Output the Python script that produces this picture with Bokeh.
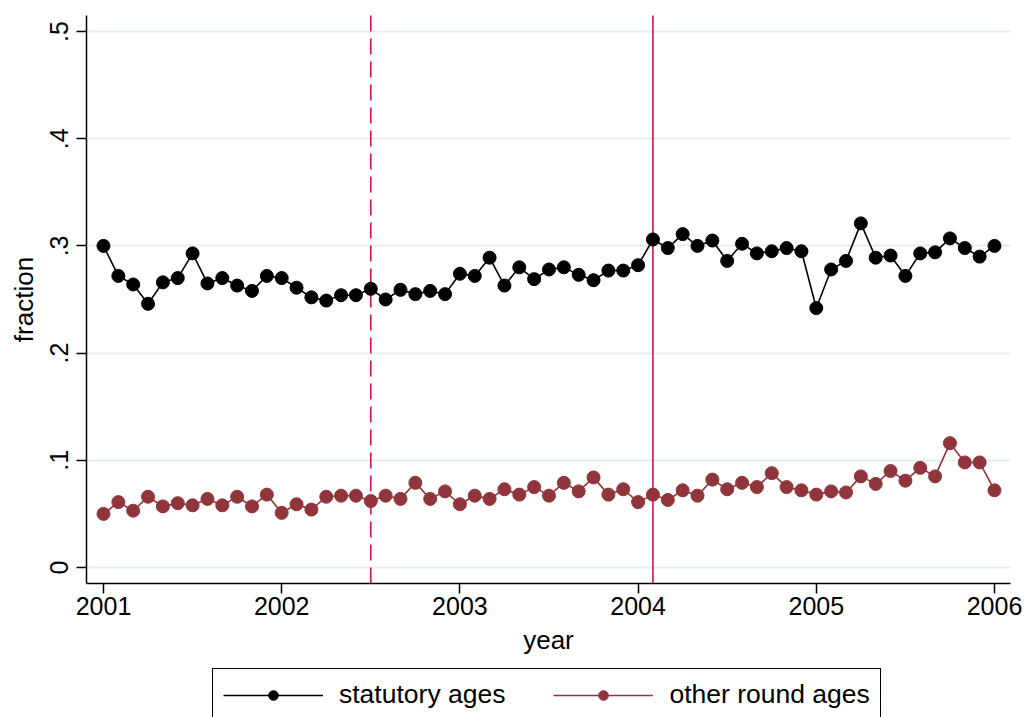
from bokeh.plotting import figure
from bokeh.models import Legend, LegendItem, FixedTicker, ColumnDataSource, Range1d
from bokeh.embed import file_html
from bokeh.resources import INLINE

# ---- data ----
n_months = 61
start_year = 2001
months = [start_year + i / 12 for i in range(n_months)]

statutory = [0.300, 0.272, 0.264, 0.246, 0.266, 0.270, 0.293, 0.265, 0.270, 0.263,
             0.258, 0.272, 0.270, 0.261, 0.252, 0.249, 0.254, 0.254, 0.260, 0.250,
             0.259, 0.255, 0.258, 0.255, 0.274, 0.272, 0.289, 0.263, 0.280, 0.269,
             0.278, 0.280, 0.273, 0.268, 0.277, 0.277, 0.282, 0.306, 0.298, 0.311,
             0.300, 0.305, 0.286, 0.302, 0.293, 0.295, 0.298, 0.295, 0.242, 0.278,
             0.286, 0.321, 0.289, 0.291, 0.272, 0.293, 0.294, 0.307, 0.298, 0.290,
             0.300]

other_round = [0.050, 0.061, 0.053, 0.066, 0.057, 0.060, 0.058, 0.064, 0.058, 0.066,
               0.057, 0.068, 0.051, 0.059, 0.054, 0.066, 0.067, 0.067, 0.062, 0.067,
               0.064, 0.079, 0.064, 0.071, 0.059, 0.067, 0.064, 0.073, 0.068, 0.075,
               0.067, 0.079, 0.071, 0.084, 0.068, 0.073, 0.061, 0.068, 0.063, 0.072,
               0.067, 0.082, 0.073, 0.079, 0.075, 0.088, 0.075, 0.072, 0.068, 0.071,
               0.070, 0.085, 0.078, 0.090, 0.081, 0.093, 0.085, 0.116, 0.098, 0.098,
               0.072]

series_labels = ["statutory ages", "other round ages"]
x_ticks = [2001, 2002, 2003, 2004, 2005, 2006]
y_ticks = [0, 0.1, 0.2, 0.3, 0.4, 0.5]
y_tick_labels = ["0", ".1", ".2", ".3", ".4", ".5"]
dashed_line_at = 2002.5
solid_line_at = 2004 + 1 / 12

# axis extents (the plot region) and the full view that also holds labels and legend
x_lo, x_hi = 2000.9046, 2006.0898
y_lo, y_hi = -0.014925, 0.514925
view_x = (2000.4220, 2006.1852)
view_y = (-0.139925, 0.528918)

# ---- style ----
FONT = "Liberation Sans"
BLACK = "#000000"
MAROON = "#90353B"
VLINE = "#D6124F"
GRID = "#E6EEF0"

p = figure(width=1027, height=717, output_backend="svg", toolbar_location=None,
           x_range=Range1d(*view_x), y_range=Range1d(*view_y),
           min_border_left=0, min_border_right=0, min_border_top=0, min_border_bottom=0)
p.outline_line_color = None
p.background_fill_color = "white"
p.border_fill_color = "white"

src = ColumnDataSource(dict(x=months, s=statutory, o=other_round))

# grid
p.xgrid.grid_line_color = None
p.ygrid.ticker = FixedTicker(ticks=y_ticks)
p.ygrid.grid_line_color = GRID
p.ygrid.grid_line_width = 2
if "cross_bounds" in p.ygrid[0].properties():
    p.ygrid.cross_bounds = (x_lo, x_hi)

# vertical reference lines (from the top of the plot region down to the x axis)
p.segment(x0=[dashed_line_at], y0=[y_hi], x1=[dashed_line_at], y1=[y_lo],
          line_color=VLINE, line_width=1.6, line_dash="16 7")
p.segment(x0=[solid_line_at], y0=[y_hi], x1=[solid_line_at], y1=[y_lo],
          line_color=VLINE, line_width=1.6)

# series (small legend markers are drawn first, hidden under the plotted markers)
ln_s = p.line("x", "s", source=src, line_color=BLACK, line_width=1.6)
lg_s = p.scatter("x", "s", source=src, size=9, fill_color=BLACK, line_color=BLACK)
p.scatter("x", "s", source=src, size=13, fill_color=BLACK, line_color=BLACK)
ln_o = p.line("x", "o", source=src, line_color=MAROON, line_width=1.6)
lg_o = p.scatter("x", "o", source=src, size=9, fill_color=MAROON, line_color=MAROON)
p.scatter("x", "o", source=src, size=13, fill_color=MAROON, line_color=MAROON)

# axes (placed at fixed data locations)
p.xaxis.fixed_location = y_lo
p.yaxis.fixed_location = x_lo
p.xaxis.bounds = (x_lo, x_hi)
p.yaxis.bounds = (y_lo, y_hi)
p.xaxis.ticker = FixedTicker(ticks=x_ticks)
p.yaxis.ticker = FixedTicker(ticks=y_ticks)
p.yaxis.major_label_overrides = {t: l for t, l in zip(y_ticks, y_tick_labels)}
p.yaxis.major_label_orientation = "vertical"
p.xaxis.axis_label = "year"
p.yaxis.axis_label = "fraction"
for ax in (p.xaxis, p.yaxis):
    ax.axis_line_color = BLACK
    ax.axis_line_width = 1.5
    ax.major_tick_line_color = BLACK
    ax.major_tick_line_width = 1.5
    ax.major_tick_out = 10
    ax.major_tick_in = 0
    ax.minor_tick_line_color = None
    ax.major_label_text_font = FONT
    ax.major_label_text_font_size = "25px"
    ax.major_label_text_color = BLACK
    ax.axis_label_text_font = FONT
    ax.axis_label_text_font_size = "26px"
    ax.axis_label_text_font_style = "normal"
    ax.axis_label_text_color = BLACK
p.xaxis.major_label_standoff = 4
p.xaxis.axis_label_standoff = 6
p.yaxis.major_label_standoff = 8
p.yaxis.axis_label_standoff = 9

legend = Legend(items=[LegendItem(label=series_labels[0], renderers=[ln_s, lg_s]),
                       LegendItem(label=series_labels[1], renderers=[ln_o, lg_o])],
                orientation="horizontal", location=(212, -4),
                glyph_width=100, glyph_height=24, label_height=24,
                label_standoff=16, spacing=48, padding=10, margin=0,
                label_text_font=FONT, label_text_font_size="26.5px",
                label_text_color=BLACK, border_line_color=BLACK, border_line_width=1,
                border_line_alpha=1.0,
                background_fill_color="white", background_fill_alpha=1.0)
p.add_layout(legend, "center")

open("out.html", "w").write(file_html(p, INLINE))
